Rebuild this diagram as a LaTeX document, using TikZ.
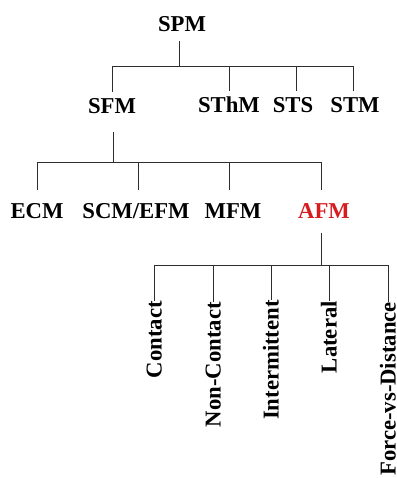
\documentclass[tikz,border=0pt]{standalone}
\usepackage{fontspec}
\setmainfont{Liberation Serif}
\definecolor{afmred}{RGB}{215,28,32}
\definecolor{linegray}{RGB}{45,45,45}
\begin{document}
\begin{tikzpicture}[x=1pt,y=-1pt,
  lbl/.style={font=\fontsize{22.7}{27}\selectfont\bfseries, inner sep=0pt, text height=15pt, text depth=0pt, anchor=base},
  vlbl/.style={font=\fontsize{22.7}{27}\selectfont\bfseries, inner sep=0pt, text height=15pt, text depth=0pt, rotate=90, anchor=east},
  conn/.style={draw=linegray, line width=1pt}]
\useasboundingbox[fill=white] (0,0) rectangle (396,478);
% level 0
\node[lbl] (spm) at (182,32) {SPM};
% level 1
\node[lbl] (sfm) at (112,114) {SFM};
\node[lbl] (sthm) at (229,113) {SThM};
\node[lbl] (sts) at (293,113) {STS};
\node[lbl] (stm) at (355,113) {STM};
% level 2
\node[lbl] (ecm) at (37,218) {ECM};
\node[lbl] (scm) at (136,218) {SCM/EFM};
\node[lbl] (mfm) at (233,218) {MFM};
\node[lbl, text=afmred] (afm) at (324,218) {AFM};
% level 3
\node[vlbl] (contact) at (154,301) {Contact};
\node[vlbl] (noncontact) at (213,302) {Non-Contact};
\node[vlbl] (intermittent) at (271,300) {Intermittent};
\node[vlbl] (lateral) at (329,301) {Lateral};
\node[vlbl] (force) at (388,302) {Force-vs-Distance};
% junctions
\coordinate (b1) at (179,67);
\coordinate (b2) at (113,163);
\coordinate (b3) at (321,265);
% connectors level 0 -> 1
\draw[conn] ([xshift=-3pt,yshift=-9pt]spm.south) -- (b1);
\draw[conn] (b1) -| ([yshift=7pt]sfm.north);
\draw[conn] (b1) -| ([yshift=7pt]sthm.north);
\draw[conn] (b1) -| ([xshift=3pt,yshift=7pt]sts.north);
\draw[conn] (b1) -| ([xshift=-2pt,yshift=7pt]stm.north);
% connectors level 1 -> 2
\draw[conn] ([xshift=1pt,yshift=-18pt]sfm.south) -- (b2);
\draw[conn] (b2) -| ([yshift=13pt]ecm.north);
\draw[conn] (b2) -| ([xshift=2pt,yshift=13pt]scm.north);
\draw[conn] (b2) -| ([xshift=-4pt,yshift=13pt]mfm.north);
\draw[conn] (b2) -| ([xshift=-3pt,yshift=13pt]afm.north);
% connectors level 2 -> 3
\draw[conn] ([xshift=-3pt,yshift=-15pt]afm.south) -- (b3);
\draw[conn] (b3) -| (contact.east);
\draw[conn] (b3) -| (noncontact.east);
\draw[conn] (b3) -| (intermittent.east);
\draw[conn] (b3) -| (lateral.east);
\draw[conn] (b3) -| (force.east);
\end{tikzpicture}
\end{document}
